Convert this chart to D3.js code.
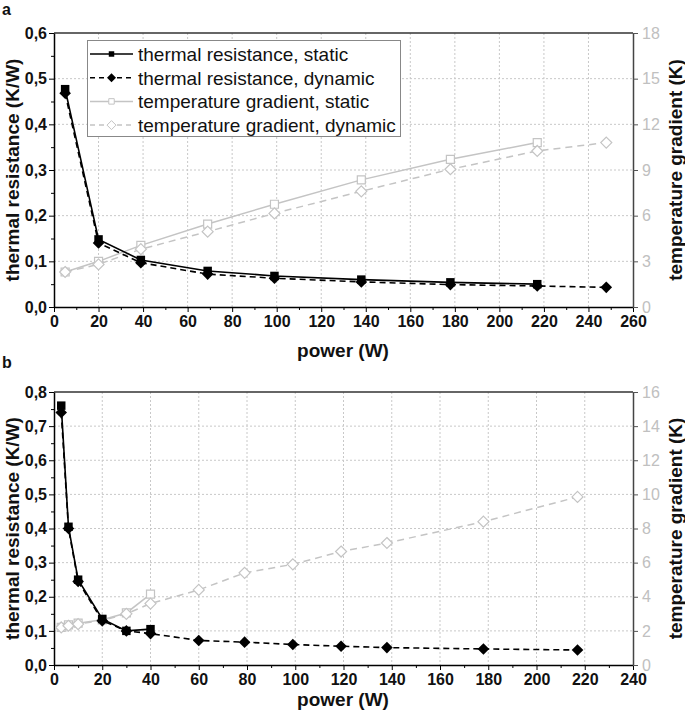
<!DOCTYPE html>
<html><head><meta charset="utf-8">
<script src="https://cdn.jsdelivr.net/npm/d3@7"></script>
<style>body{margin:0;background:#fff}svg{display:block;font-family:"Liberation Sans",Arial,sans-serif}</style>
</head><body><svg id="c" width="685" height="722"></svg>
<script>
// ---- Panel a data ----
const aPowerStatic = [5, 20, 39, 69, 99, 138, 178, 217];
const aPowerDynamic = [5, 20, 39, 69, 99, 138, 178, 217, 248];
const aResStatic = [0.477, 0.148, 0.103, 0.079, 0.068, 0.060, 0.054, 0.050];
const aResDynamic = [0.468, 0.140, 0.097, 0.072, 0.063, 0.055, 0.049, 0.046, 0.043];
const aGradStatic = [2.3, 3.0, 4.05, 5.45, 6.75, 8.35, 9.7, 10.8];
const aGradDynamic = [2.3, 2.8, 3.8, 4.95, 6.15, 7.6, 9.05, 10.25, 10.8];
const aXTicks = [0, 20, 40, 60, 80, 100, 120, 140, 160, 180, 200, 220, 240, 260];
const aYTicks = [0, 0.1, 0.2, 0.3, 0.4, 0.5, 0.6];
const aY2Ticks = [0, 3, 6, 9, 12, 15, 18];
// ---- Panel b data ----
const bPowerStatic = [3, 6, 10, 20, 30, 40];
const bPowerDynamic = [3, 6, 10, 20, 30, 40, 60, 79, 99, 119, 138, 178, 217];
const bResStatic = [0.76, 0.405, 0.25, 0.135, 0.10, 0.105];
const bResDynamic = [0.74, 0.40, 0.245, 0.13, 0.10, 0.092, 0.072, 0.067, 0.060, 0.055, 0.051, 0.047, 0.044];
const bGradStatic = [2.2, 2.35, 2.45, 2.65, 3.05, 4.15];
const bGradDynamic = [2.2, 2.3, 2.4, 2.6, 3.0, 3.6, 4.4, 5.4, 5.9, 6.65, 7.15, 8.4, 9.85];
const bXTicks = [0, 20, 40, 60, 80, 100, 120, 140, 160, 180, 200, 220, 240];
const bYTicks = [0, 0.1, 0.2, 0.3, 0.4, 0.5, 0.6, 0.7, 0.8];
const bY2Ticks = [0, 2, 4, 6, 8, 10, 12, 14, 16];

const legendLabels = ["thermal resistance, static", "thermal resistance, dynamic",
  "temperature gradient, static", "temperature gradient, dynamic"];

const svg = d3.select("#c");
const GRAY = "#c4c4c4", GRAYTXT = "#c0c0c0";
const fmt = d => d3.format(".1f")(d).replace(".", ",");

function panel(o) {
  const L = 54, R = 633, T = o.top, B = o.bottom;
  const x = d3.scaleLinear().domain([0, o.xmax]).range([L, R]);
  const y = d3.scaleLinear().domain([0, o.ymax]).range([B, T]);
  const y2 = d3.scaleLinear().domain([0, o.y2max]).range([B, T]);
  const g = svg.append("g");

  // grid
  g.append("g").selectAll("line").data(o.xTicks.filter(t => t > 0 && t < o.xmax)).join("line")
    .attr("x1", d => x(d)).attr("x2", d => x(d)).attr("y1", T).attr("y2", B)
    .attr("stroke", "#c8c8c8").attr("stroke-width", 1).attr("stroke-dasharray", "2,2");
  g.append("g").selectAll("line").data(o.yTicks.filter(t => t > 0 && t < o.ymax)).join("line")
    .attr("x1", L).attr("x2", R).attr("y1", d => y(d)).attr("y2", d => y(d))
    .attr("stroke", "#c8c8c8").attr("stroke-width", 1).attr("stroke-dasharray", "2,2");

  // frame top
  g.append("line").attr("x1", L).attr("x2", R).attr("y1", T).attr("y2", T).attr("stroke", "#333").attr("stroke-width", 1.5);

  // axes
  const xa = g.append("g").attr("transform", `translate(0,${B})`)
    .call(d3.axisBottom(x).tickValues(o.xTicks).tickSize(5).tickSizeOuter(0).tickPadding(4).tickFormat(d3.format("d")));
  xa.select(".domain").attr("stroke-width", 1.5);
  xa.selectAll("text").attr("font-size", 16).attr("font-weight", "bold").attr("fill", "#111");
  g.append("g").attr("transform", `translate(0,${B})`)
    .call(d3.axisBottom(x).tickValues(o.xTicks.slice(0, -1).map(t => t + 10)).tickSize(3).tickFormat(""))
    .call(s => s.select(".domain").remove());

  const ya = g.append("g").attr("transform", `translate(${L},0)`)
    .call(d3.axisLeft(y).tickValues(o.yTicks).tickSize(5).tickSizeOuter(0).tickPadding(2).tickFormat(fmt));
  ya.select(".domain").attr("stroke-width", 1.5);
  ya.selectAll("text").attr("font-size", 16).attr("font-weight", "bold").attr("fill", "#111");
  g.append("g").attr("transform", `translate(${L},0)`)
    .call(d3.axisLeft(y).tickValues(o.yTicks.slice(0, -1).map(t => t + 0.05)).tickSize(3).tickFormat(""))
    .call(s => s.select(".domain").remove());

  const y2a = g.append("g").attr("transform", `translate(${R},0)`)
    .call(d3.axisRight(y2).tickValues(o.y2Ticks).tickSize(5).tickSizeOuter(0).tickPadding(4).tickFormat(d3.format("d")));
  y2a.select(".domain").attr("stroke", "#444").attr("stroke-width", 1.5);
  y2a.selectAll(".tick line").attr("stroke", "#555");
  y2a.selectAll("text").attr("font-size", 16).attr("fill", GRAYTXT);

  // titles
  g.append("text").attr("x", 343).attr("y", o.xTitleY).attr("text-anchor", "middle")
    .attr("font-size", 19).attr("font-weight", "bold").attr("fill", "#111").text("power (W)");
  g.append("text").attr("transform", `translate(19,${(T + B) / 2}) rotate(-90)`).attr("text-anchor", "middle")
    .attr("font-size", 19).attr("font-weight", "bold").attr("fill", "#111").text("thermal resistance (K/W)");
  g.append("text").attr("transform", `translate(682,${(T + B) / 2}) rotate(-90)`).attr("text-anchor", "middle")
    .attr("font-size", 19).attr("font-weight", "bold").attr("fill", "#111").text("temperature gradient (K)");
  g.append("text").attr("x", 2).attr("y", o.labelY).attr("font-size", 16).attr("font-weight", "bold")
    .attr("fill", "#111").text(o.label);

  // series
  const line = (xs, ys, sc) => d3.line()(xs.map((v, i) => [x(v), sc(ys[i])]));
  const sq = d3.symbol().type(d3.symbolSquare);
  const diamond = s => `M0,${-s}L${s},0L0,${s}L${-s},0Z`;

  // gray gradients
  g.append("path").attr("d", line(o.pD, o.gD, y2)).attr("fill", "none").attr("stroke", GRAY)
    .attr("stroke-width", 1.5).attr("stroke-dasharray", "7,5");
  g.append("path").attr("d", line(o.pS, o.gS, y2)).attr("fill", "none").attr("stroke", GRAY).attr("stroke-width", 1.5);
  g.append("g").selectAll("path").data(o.pS).join("path")
    .attr("transform", (d, i) => `translate(${x(d)},${y2(o.gS[i])})`).attr("d", sq.size(64)())
    .attr("fill", "#fff").attr("stroke", GRAY).attr("stroke-width", 1.2);
  g.append("g").selectAll("path").data(o.pD).join("path")
    .attr("transform", (d, i) => `translate(${x(d)},${y2(o.gD[i])})`).attr("d", diamond(5.5))
    .attr("fill", "#fff").attr("stroke", GRAY).attr("stroke-width", 1.2);

  // black resistances
  g.append("path").attr("d", line(o.pD, o.rD, y)).attr("fill", "none").attr("stroke", "#000")
    .attr("stroke-width", 1.6).attr("stroke-dasharray", "6,4");
  g.append("path").attr("d", line(o.pS, o.rS, y)).attr("fill", "none").attr("stroke", "#000").attr("stroke-width", 1.6);
  g.append("g").selectAll("path").data(o.pS).join("path")
    .attr("transform", (d, i) => `translate(${x(d)},${y(o.rS[i])})`).attr("d", sq.size(72)()).attr("fill", "#000");
  g.append("g").selectAll("path").data(o.pD).join("path")
    .attr("transform", (d, i) => `translate(${x(d)},${y(o.rD[i])})`).attr("d", diamond(5.8)).attr("fill", "#000");
  return g;
}

panel({top: 33, bottom: 307, xmax: 260, ymax: 0.6, y2max: 18, xTicks: aXTicks, yTicks: aYTicks, y2Ticks: aY2Ticks,
  pS: aPowerStatic, pD: aPowerDynamic, rS: aResStatic, rD: aResDynamic, gS: aGradStatic, gD: aGradDynamic,
  xTitleY: 357, label: "a", labelY: 15});
panel({top: 392, bottom: 665, xmax: 240, ymax: 0.8, y2max: 16, xTicks: bXTicks, yTicks: bYTicks, y2Ticks: bY2Ticks,
  pS: bPowerStatic, pD: bPowerDynamic, rS: bResStatic, rD: bResDynamic, gS: bGradStatic, gD: bGradDynamic,
  xTitleY: 706, label: "b", labelY: 368});

// legend (panel a)
const lg = svg.append("g");
lg.append("rect").attr("x", 87.5).attr("y", 40.5).attr("width", 313).attr("height", 96)
  .attr("fill", "#fff").attr("stroke", "#888").attr("stroke-width", 1);
const styles = [
  {c: "#000", dash: null, m: "sq", fill: "#000"},
  {c: "#000", dash: "5,4", m: "di", fill: "#000"},
  {c: GRAY, dash: null, m: "sq", fill: "#fff"},
  {c: GRAY, dash: "5,4", m: "di", fill: "#fff"}];
legendLabels.forEach((t, i) => {
  const yy = 54 + i * 23.7, st = styles[i];
  lg.append("line").attr("x1", 90).attr("x2", 133).attr("y1", yy).attr("y2", yy)
    .attr("stroke", st.c).attr("stroke-width", 1.5).attr("stroke-dasharray", st.dash);
  const m = lg.append("path").attr("transform", `translate(111.5,${yy})`)
    .attr("d", st.m === "sq" ? d3.symbol().type(d3.symbolSquare).size(30)() : "M0,-4.5L4.5,0L0,4.5L-4.5,0Z")
    .attr("fill", st.fill);
  if (st.fill === "#fff") m.attr("stroke", GRAY).attr("stroke-width", 1);
  lg.append("text").attr("x", 138).attr("y", yy + 7).attr("font-size", 19).attr("fill", "#111").text(t);
});
</script></body></html>
